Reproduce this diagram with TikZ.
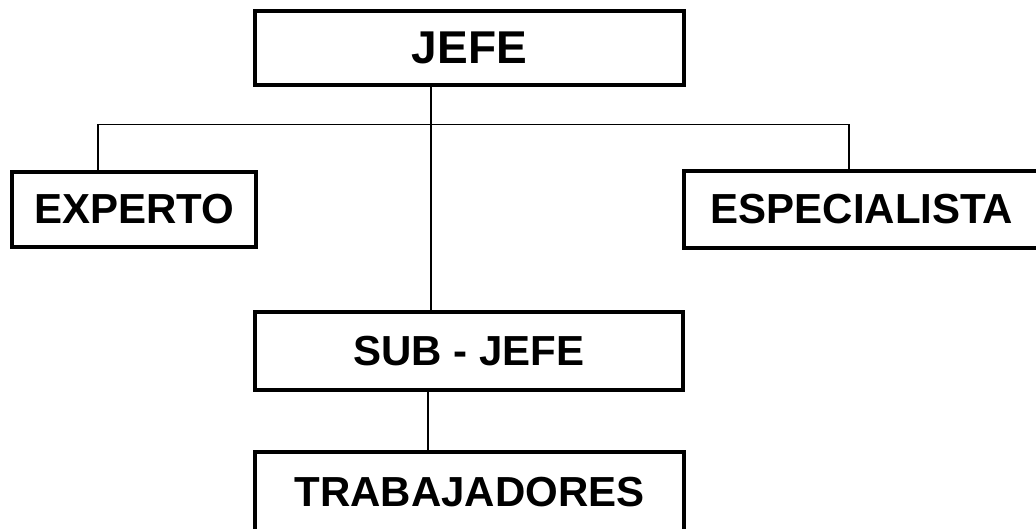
\documentclass[tikz,border=0pt]{standalone}
\usepackage{fontspec}
\setmainfont{Liberation Sans}
\begin{document}
\begin{tikzpicture}[x=1pt,y=-1pt,
  box/.style={draw=black, line width=3.2pt, rectangle, inner sep=0pt, font=\fontsize{42}{48}\selectfont\bfseries},
  conn/.style={draw=black, line width=1.8pt}]
\useasboundingbox (0,0) rectangle (1036,529);
\node[box, minimum width=429pt, minimum height=74pt, font=\fontsize{46}{52}\selectfont\bfseries] (jefe) at (469.5,48) {JEFE};
\node[box, minimum width=244pt, minimum height=75pt] (experto) at (134,209.5) {EXPERTO};
\node[box, minimum width=356pt, minimum height=77pt] (esp) at (862,209.5) {ESPECIALISTA};
\node[box, minimum width=428pt, minimum height=78pt] (sub) at (469,351) {SUB - JEFE};
\node[box, minimum width=429pt, minimum height=80pt] (trab) at (469.5,492) {TRABAJADORES};
\coordinate (hl) at (98,124.5);
\coordinate (hr) at (849,124.5);
\coordinate (vc) at (431,124.5);
\coordinate (vs) at (428,420);
\draw[conn] (hl) -- (hr);
\draw[conn] (hl) -- (experto.north -| hl);
\draw[conn] (hr) -- (esp.north -| hr);
\draw[conn] (jefe.south -| vc) -- (sub.north -| vc);
\draw[conn] (sub.south -| vs) -- (trab.north -| vs);
\end{tikzpicture}
\end{document}
